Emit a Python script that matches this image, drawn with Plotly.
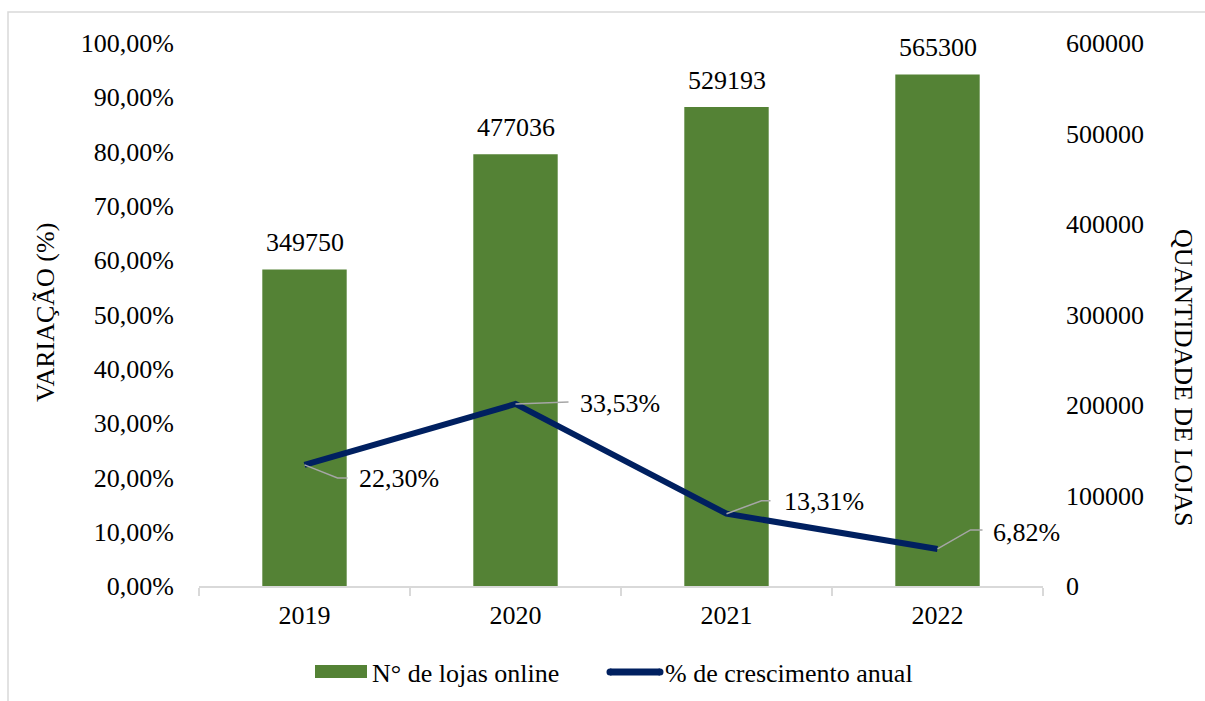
import plotly.graph_objects as go

# Data
years = ["2019", "2020", "2021", "2022"]
stores = [349750, 477036, 529193, 565300]
growth = [0.2230, 0.3353, 0.1331, 0.0682]

pct_ticks = [i / 10 for i in range(11)]
pct_tick_text = ["0,00%", "10,00%", "20,00%", "30,00%", "40,00%", "50,00%",
                 "60,00%", "70,00%", "80,00%", "90,00%", "100,00%"]
count_ticks = [0, 100000, 200000, 300000, 400000, 500000, 600000]
count_tick_text = ["0", "100000", "200000", "300000", "400000", "500000", "600000"]

series_names = ["N° de lojas online", "% de crescimento anual"]

FONT = "'Times New Roman', 'Liberation Serif', Tinos, 'DejaVu Serif', serif"
GREEN = "#548235"
NAVY = "#002060"
GRAY = "#d9d9d9"
LEADER = "#a6a6a6"

W, H = 1205, 701
ML, MR, MT, MB = 199, 162, 43, 115
PW = W - ML - MR
PH = H - MT - MB


def px_x(px):
    """Horizontal page pixel -> paper coordinate."""
    return (px - ML) / PW


def px_y(py):
    """Vertical page pixel (from top) -> paper coordinate."""
    return (H - MB - py) / PH


xpos = list(range(len(years)))

fig = go.Figure()

# Bars on the count axis (drawn underneath)
fig.add_trace(go.Bar(
    x=xpos, y=stores, name=series_names[0],
    marker=dict(color=GREEN, line=dict(width=0)),
    width=0.4, yaxis="y", showlegend=False,
))

# Growth line on the percentage axis (overlay, drawn on top)
fig.add_trace(go.Scatter(
    x=xpos, y=growth, name=series_names[1],
    mode="lines", line=dict(color=NAVY, width=6),
    yaxis="y2", showlegend=False,
))


def pct_label(v):
    return f"{v * 100:.2f}".replace(".", ",") + "%"


text_font = dict(family=FONT, size=26, color="#000000")
annotations = []
shapes = []

# Values above the bars
for i, v in enumerate(stores):
    annotations.append(dict(
        x=i, y=v, xref="x", yref="y", text=str(v), showarrow=False,
        yanchor="bottom", xanchor="center", yshift=10, font=text_font,
    ))

# Growth labels with elbow leader lines (pixel offsets from the point)
label_style = [
    dict(path="M0,0 L33,-13 L43,-13", dx=52, dy=-14),
    dict(path="M0,0 L53,2", dx=62, dy=0),
    dict(path="M0,0 L35,13 L44,13", dx=55, dy=12),
    dict(path="M0,0 L33,19 L45,19", dx=53, dy=16),
]
for i, v in enumerate(growth):
    st = label_style[i]
    annotations.append(dict(
        x=i, y=v, xref="x", yref="y2", text=pct_label(v), showarrow=False,
        xanchor="left", yanchor="middle", xshift=st["dx"], yshift=st["dy"],
        font=text_font,
    ))
    shapes.append(dict(
        type="path", xref="x", yref="y2", xsizemode="pixel", ysizemode="pixel",
        xanchor=i, yanchor=v, path=st["path"],
        line=dict(color=LEADER, width=1.5), layer="above",
    ))

# Axis titles
annotations.append(dict(
    x=px_x(45), y=px_y(313), xref="paper", yref="paper",
    text="VARIAÇÃO (%)", textangle=-90, showarrow=False,
    xanchor="center", yanchor="middle", font=text_font,
))
annotations.append(dict(
    x=px_x(1184), y=px_y(378), xref="paper", yref="paper",
    text="QUANTIDADE DE LOJAS", textangle=90, showarrow=False,
    xanchor="center", yanchor="middle", font=text_font,
))

# Legend below the plot
shapes.append(dict(
    type="rect", xref="paper", yref="paper",
    x0=px_x(315), x1=px_x(367), y0=px_y(678), y1=px_y(665),
    fillcolor=GREEN, line=dict(width=0),
))
annotations.append(dict(
    x=px_x(370), y=px_y(673), xref="paper", yref="paper",
    text=series_names[0], showarrow=False, xanchor="left", yanchor="middle",
    font=text_font,
))
shapes.append(dict(
    type="line", xref="paper", yref="paper",
    x0=px_x(610), x1=px_x(660), y0=px_y(672), y1=px_y(672),
    line=dict(color=NAVY, width=7),
))
shapes.append(dict(
    type="circle", xref="paper", yref="paper",
    x0=px_x(606.5), x1=px_x(613.5), y0=px_y(675.5), y1=px_y(668.5),
    fillcolor=NAVY, line=dict(width=0),
))
shapes.append(dict(
    type="circle", xref="paper", yref="paper",
    x0=px_x(656.5), x1=px_x(663.5), y0=px_y(675.5), y1=px_y(668.5),
    fillcolor=NAVY, line=dict(width=0),
))
annotations.append(dict(
    x=px_x(663), y=px_y(673), xref="paper", yref="paper",
    text=series_names[1], showarrow=False, xanchor="left", yanchor="middle",
    font=text_font,
))

# Outer chart frame
shapes.append(dict(
    type="rect", xref="paper", yref="paper",
    x0=px_x(8), x1=px_x(W + 10), y0=px_y(H + 10), y1=px_y(12),
    line=dict(color=GRAY, width=1.5), fillcolor="rgba(0,0,0,0)", layer="below",
))

fig.update_layout(
    width=W, height=H,
    margin=dict(l=ML, r=MR, t=MT, b=MB, pad=0),
    paper_bgcolor="white", plot_bgcolor="white",
    font=dict(family=FONT, size=26, color="#000000"),
    showlegend=False,
    xaxis=dict(
        range=[-0.5, 3.5], tickvals=xpos, ticktext=years,
        showgrid=False, zeroline=False,
        showline=True, linecolor=GRAY, linewidth=1.5,
        ticks="", ticklabelstandoff=5,
        tickfont=dict(family=FONT, size=26),
        minor=dict(tickvals=[-0.5, 0.5, 1.5, 2.5, 3.5], ticks="outside",
                   ticklen=8, tickcolor=GRAY, tickwidth=1.5, showgrid=False),
    ),
    yaxis=dict(
        range=[0, 600000], side="right", tickvals=count_ticks,
        ticktext=count_tick_text, showgrid=False, zeroline=False,
        showline=False, ticks="", ticklabelstandoff=22,
        tickfont=dict(family=FONT, size=26),
    ),
    yaxis2=dict(
        range=[0, 1], side="left", overlaying="y", tickvals=pct_ticks,
        ticktext=pct_tick_text, showgrid=False, zeroline=False,
        showline=False, ticks="", ticklabelstandoff=24,
        tickfont=dict(family=FONT, size=26),
    ),
    annotations=annotations,
    shapes=shapes,
)

fig.write_html("out.html")
